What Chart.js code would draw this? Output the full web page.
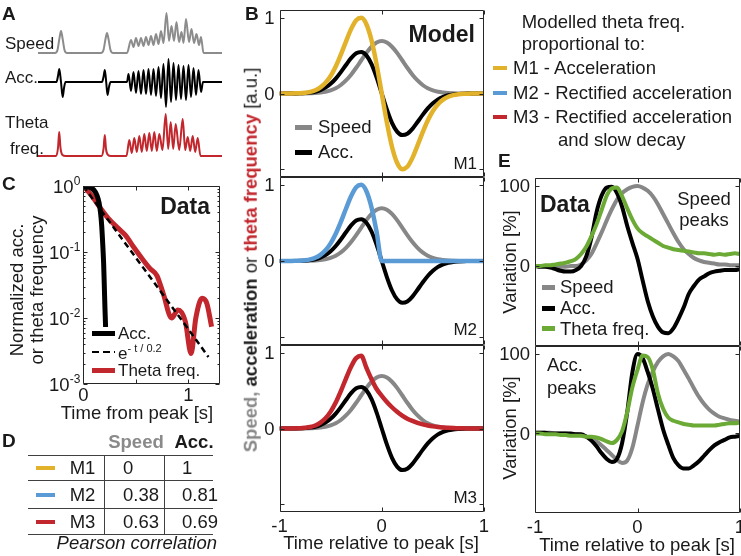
<!DOCTYPE html>
<html>
<head>
<meta charset="utf-8">
<script src="https://cdn.jsdelivr.net/npm/chart.js@4"></script>
<style>
  body { margin: 0; background: #fff; }
  #fig { position: relative; width: 741px; height: 556px; overflow: hidden;
         font-family: "Liberation Sans", Arial, sans-serif; color: #1a1a1a; }
  #fig canvas { position: absolute; left: 0; top: 0; }
  .t { position: absolute; white-space: nowrap; font-size: 18.5px; line-height: 1; }
  .t sup { font-size: 11px; vertical-align: 7px; }
  .seg { position: absolute; }
</style>
</head>
<body>
<div id="fig"></div>
<script>
// ---- A: example traces (time in s, a.u.)
const aSpeedT = [0, 1.7, 1.95, 2.15, 2.3, 2.45, 2.65, 2.9, 6.3, 6.55, 6.75, 6.9, 7.05, 7.25, 7.5, 8.9, 9.3, 9.55, 9.8, 10.05, 10.3, 10.55, 10.8, 11.05, 11.3, 11.55, 11.8, 12.05, 12.3, 12.55, 12.85, 13.1, 13.35, 13.6, 13.85, 14.1, 14.35, 14.55, 14.8, 15.1, 15.35, 15.6, 15.85, 16.1, 16.3, 16.55, 18.4];
const aSpeed  = [0, 0, 3, 15, 22, 15, 3, 0, 0, 3, 14, 20, 14, 3, 0, 0, 13, 6, 15, 7, 15, 7, 16, 8, 17, 8, 19, 9, 22, 10, 40, 12, 27, 12, 31, 11, 21, 10, 34, 11, 24, 10, 19, 8, 16, 0, 0];
const aAccT = [0, 1.85, 2.0, 2.13, 2.3, 2.47, 2.6, 2.75, 6.4, 6.55, 6.68, 6.82, 6.95, 7.1, 7.25, 8.9, 9.05, 9.3, 9.55, 9.8, 10.05, 10.3, 10.55, 10.8, 11.05, 11.3, 11.55, 11.8, 12.05, 12.3, 12.55, 12.8, 13.05, 13.3, 13.55, 13.8, 14.05, 14.3, 14.55, 14.8, 15.05, 15.3, 15.55, 15.8, 16.05, 16.3, 16.5, 18.4];
const aAcc  = [0, 0, 6, 13, 0, -15, -6, 0, 0, 5, 12, 0, -13, -5, 0, 0, 8, -9, 10, -11, 11, -12, 12, -12, 13, -13, 13, -14, 15, -16, 18, -25, 23, -20, 19, -18, 17, -17, 16, -18, 17, -15, 14, -13, 12, -10, 0, 0];
const aThetaT = [0, 1.8, 2.0, 2.12, 2.25, 2.45, 2.75, 6.35, 6.55, 6.68, 6.8, 7.0, 7.3, 8.85, 9.13, 9.38, 9.63, 9.88, 10.13, 10.38, 10.63, 10.88, 11.13, 11.38, 11.63, 11.88, 12.13, 12.45, 12.77, 13.02, 13.27, 13.52, 13.77, 14.12, 14.47, 14.72, 14.97, 15.22, 15.47, 15.72, 15.97, 16.25, 18.4];
const aTheta  = [0, 0, 8, 24, 8, 1, 0, 0, 7, 21, 7, 1, 0, 0, 16, 3, 18, 4, 20, 4, 22, 5, 23, 5, 24, 5, 22, 6, 42, 7, 34, 7, 32, 6, 37, 6, 19, 5, 20, 4, 18, 0, 0];

// ---- B: model curves
const bTime = [-1, -0.95, -0.9, -0.85, -0.8, -0.75, -0.7, -0.65, -0.6, -0.55, -0.5, -0.45, -0.4, -0.35, -0.3, -0.25, -0.2, -0.15, -0.1, -0.05, 0, 0.05, 0.1, 0.15, 0.2, 0.25, 0.3, 0.35, 0.4, 0.45, 0.5, 0.55, 0.6, 0.65, 0.7, 0.75, 0.8, 0.85, 0.9, 0.95, 1];
const bSpeed = [0, 0, 0, 0, 0, 0.001, 0.003, 0.006, 0.012, 0.022, 0.041, 0.069, 0.112, 0.172, 0.248, 0.339, 0.438, 0.535, 0.616, 0.671, 0.69, 0.671, 0.616, 0.535, 0.438, 0.339, 0.248, 0.172, 0.112, 0.069, 0.041, 0.022, 0.012, 0.006, 0.003, 0.001, 0, 0, 0, 0, 0];
const bAcc = [0, 0, 0, 0.001, 0.002, 0.006, 0.012, 0.023, 0.044, 0.077, 0.127, 0.196, 0.282, 0.376, 0.466, 0.531, 0.548, 0.502, 0.386, 0.210, 0, -0.210, -0.386, -0.502, -0.548, -0.531, -0.466, -0.376, -0.282, -0.196, -0.127, -0.077, -0.044, -0.023, -0.012, -0.006, -0.002, -0.001, 0, 0, 0];
const bM1 = [0, 0, 0.001, 0.002, 0.004, 0.010, 0.021, 0.042, 0.080, 0.140, 0.231, 0.356, 0.512, 0.684, 0.848, 0.966, 0.997, 0.913, 0.701, 0.381, 0, -0.381, -0.701, -0.913, -0.997, -0.966, -0.848, -0.684, -0.512, -0.356, -0.231, -0.140, -0.080, -0.042, -0.021, -0.010, -0.004, -0.002, -0.001, 0, 0];
const bM2 = [0, 0, 0.001, 0.002, 0.004, 0.010, 0.021, 0.042, 0.080, 0.140, 0.231, 0.356, 0.512, 0.684, 0.848, 0.966, 0.997, 0.913, 0.701, 0.381, 0, 0, 0, 0, 0, 0, 0, 0, 0, 0, 0, 0, 0, 0, 0, 0, 0, 0, 0, 0, 0];
const bM3 = [0, 0, 0.001, 0.002, 0.004, 0.010, 0.020, 0.040, 0.077, 0.134, 0.222, 0.342, 0.492, 0.657, 0.814, 0.927, 0.957, 0.80, 0.65, 0.52, 0.43, 0.35, 0.28, 0.22, 0.17, 0.13, 0.10, 0.075, 0.055, 0.04, 0.028, 0.02, 0.014, 0.009, 0.006, 0.004, 0.002, 0.001, 0, 0, 0];
const bXTicks = [-1, 0, 1];
const bXTickLabels = ['-1', '0', '1'];
const bYTicks = [-1, 0, 1];
const bYLabelTicks = [0, 1];
const bYTickLabels = ['0', '1'];

// ---- C: decay after peak (log scale)
const cAccT = [0, 0.05, 0.1, 0.13, 0.15, 0.165, 0.175, 0.185, 0.193, 0.2, 0.206, 0.212];
const cAcc  = [1, 0.97, 0.87, 0.72, 0.56, 0.38, 0.25, 0.13, 0.07, 0.03, 0.014, 0.0073];
const cExpT = [0, 0.2, 0.4, 0.6, 0.8, 1.0, 1.19];
const cExp  = [1, 0.368, 0.135, 0.0498, 0.0183, 0.00674, 0.00257];
const cThetaT = [0, 0.08, 0.16, 0.24, 0.33, 0.4, 0.48, 0.56, 0.635, 0.7, 0.76, 0.84, 0.9, 0.97, 1.025, 1.07, 1.13, 1.175, 1.22];
const cTheta  = [1, 0.71, 0.47, 0.32, 0.23, 0.18, 0.118, 0.079, 0.056, 0.044, 0.0235, 0.0100, 0.0132, 0.0089, 0.0029, 0.0100, 0.0199, 0.0166, 0.0074];
const cXTicks = [0, 0.5, 1];
const cXLabelTicks = [0, 1];
const cXTickLabels = ['0', '1'];
const cYTicks = [0.001, 0.01, 0.1, 1];
const cYExponents = ['-3', '-2', '-1', '0'];

// ---- D: correlation table
const dModels = ['M1', 'M2', 'M3'];
const dCorrSpeed = [0, 0.38, 0.63];
const dCorrAcc = [1, 0.81, 0.69];

// ---- E: triggered averages (%)
const eTime = bTime;
const eSpeedTop = [0, 0, 0, -1, -1, -1, -1, 0, 0, 2, 7, 15, 28, 42, 57, 71, 83, 91, 96, 99, 100, 98, 94, 87, 77, 65, 53, 41, 30, 21, 15, 10, 7, 5, 4, 3, 2, 2, 1, 1, 1];
const eAccTop = [0, -1, -1, -2, -4, -6, -7, -7, -5, 0, 12, 35, 67, 88, 98, 99, 91, 74, 50, 29, 9, -18, -44, -63, -76, -83, -84, -78, -66, -52, -35, -25, -17, -13, -9, -7, -6, -5, -5, -5, -4];
const eThetaTop = [0, 0, 1, 1, 2, 3, 4, 6, 9, 15, 24, 37, 52, 70, 88, 97, 98, 87, 72, 58, 47, 41, 37, 33, 29, 25, 23, 21, 20, 19, 18, 17, 16, 16, 15, 14, 15, 14, 15, 16, 15];
const eSpeedBot = [1, 1, 1, 1, 0, 0, 0, -1, -1, -2, -4, -7, -10, -15, -21, -27, -33, -37, -34, -18, 10, 39, 62, 78, 90, 97, 100, 97, 91, 80, 69, 57, 46, 37, 30, 25, 21, 19, 17, 16, 15];
const eAccBot = [1, 1, 1, 0, 0, 0, 0, 0, -1, -1, -4, -9, -16, -25, -32, -36, -32, -12, 27, 77, 100, 95, 77, 56, 30, 5, -14, -31, -40, -44, -44, -40, -35, -28, -21, -15, -11, -8, -5, -4, -3];
const eThetaBot = [0, 0, -1, -1, -1, -2, -2, -3, -3, -3, -4, -4, -5, -7, -10, -12, -8, 3, 27, 58, 80, 98, 96, 80, 50, 31, 20, 16, 14, 12, 11, 10, 10, 10, 10, 10, 11, 12, 13, 13, 14];
const eYTicks = [0, 100];
const eYTickLabels = ['0', '100'];

const GRAY = '#878787', RED = '#c1272d', YEL = '#e3b22b', BLUE = '#5b9bd5', GREEN = '#6aaa35';
const W = 741, H = 556;
const fig = document.getElementById('fig');
const FONT = '"Liberation Sans", Arial, sans-serif';

// Frame, inward ticks and tick labels, placed through the chart's scales
function makeFrame(cfg) {
    return {
        id: 'frame',
        afterDatasetsDraw(chart) {
            const { ctx, chartArea: a } = chart;
            const xs = chart.scales.x, ys = chart.scales.y;
            const L = Math.round(a.left) + 0.5, R = Math.round(a.right) - 0.5;
            const T = Math.round(a.top) + 0.5, B = Math.round(a.bottom) - 0.5;
            ctx.save();
            ctx.strokeStyle = '#262626';
            ctx.lineWidth = 1;
            ctx.beginPath();
            ctx.rect(L, T, R - L, B - T);
            (cfg.xTicks || []).forEach(v => {
                const p = Math.round(xs.getPixelForValue(v)) + 0.5;
                ctx.moveTo(p, B); ctx.lineTo(p, B - 4);
                ctx.moveTo(p, T); ctx.lineTo(p, T + 4);
            });
            const yTick = (v, len) => {
                const p = Math.round(ys.getPixelForValue(v)) + 0.5;
                ctx.moveTo(L, p); ctx.lineTo(L + len, p);
                ctx.moveTo(R, p); ctx.lineTo(R - len, p);
            };
            (cfg.yTicks || []).forEach(v => yTick(v, 4));
            (cfg.yMinor || []).forEach(v => yTick(v, 2));
            ctx.stroke();

            ctx.fillStyle = '#1a1a1a';
            ctx.textBaseline = 'middle';
            ctx.font = '18.5px ' + FONT;
            if (cfg.xLabels) {
                ctx.textAlign = 'center';
                cfg.xLabels.forEach((v, i) => ctx.fillText(cfg.xText[i], xs.getPixelForValue(v), a.bottom + cfg.xGap));
            }
            if (cfg.yLabels) {
                ctx.textAlign = 'right';
                cfg.yLabels.forEach((v, i) => ctx.fillText(cfg.yText[i], a.left - 5, ys.getPixelForValue(v) + 1));
            }
            if (cfg.yExp) {
                ctx.textAlign = 'right';
                cfg.yExp.forEach((v, i) => {
                    const p = ys.getPixelForValue(v);
                    ctx.font = '12px ' + FONT;
                    const ew = ctx.measureText(cfg.yExpText[i]).width;
                    ctx.fillText(cfg.yExpText[i], a.left - 3, p - 4);
                    ctx.font = '18.5px ' + FONT;
                    ctx.fillText('10', a.left - 3 - ew, p + 2);
                });
            }
            ctx.restore();
        }
    };
}

const pts = (T, V) => T.map((t, i) => ({ x: t, y: V[i] }));
function line(T, V, color, width, extra) {
    return Object.assign({ data: pts(T, V), borderColor: color, borderWidth: width,
        pointRadius: 0, fill: false }, extra || {});
}

function plot(box, xr, yr, datasets, frame, log) {
    const c = document.createElement('canvas');
    c.width = W; c.height = H;
    fig.appendChild(c);
    return new Chart(c, {
        type: 'line',
        data: { datasets },
        options: {
            responsive: false, animation: false, events: [],
            layout: { padding: { left: box[0], top: box[1], right: W - box[2], bottom: H - box[3] } },
            plugins: { legend: { display: false }, tooltip: { enabled: false } },
            scales: {
                x: { type: 'linear', display: false, min: xr[0], max: xr[1] },
                y: { type: log ? 'logarithmic' : 'linear', display: false, min: yr[0], max: yr[1] }
            },
            elements: { line: { cubicInterpolationMode: 'monotone', borderJoinStyle: 'round', borderCapStyle: 'butt' } }
        },
        plugins: frame ? [makeFrame(frame)] : []
    });
}

function txt(html, x, y, o = {}) {
    const d = document.createElement('div');
    d.className = 't';
    d.innerHTML = html;
    d.style.left = x + 'px';
    d.style.top = y + 'px';
    if (o.size) d.style.fontSize = o.size + 'px';
    if (o.bold) d.style.fontWeight = 'bold';
    if (o.italic) d.style.fontStyle = 'italic';
    if (o.color) d.style.color = o.color;
    const ax = o.align === 'right' ? '-100%' : o.align === 'center' || o.rot ? '-50%' : '0';
    d.style.transform = `translate(${ax}, -50%)` + (o.rot ? ' rotate(-90deg)' : '');
    fig.appendChild(d);
}

function seg(x1, x2, y, color, w, dashed) {
    const d = document.createElement('div');
    d.className = 'seg';
    d.style.left = x1 + 'px';
    d.style.top = (y - w / 2) + 'px';
    d.style.width = (x2 - x1) + 'px';
    d.style.height = w + 'px';
    d.style.background = dashed
        ? `repeating-linear-gradient(90deg, ${color} 0 7px, transparent 7px 11px)` : color;
    fig.appendChild(d);
}
function vseg(x, y1, y2, color) {
    const d = document.createElement('div');
    d.className = 'seg';
    d.style.left = (x - 0.5) + 'px';
    d.style.top = y1 + 'px';
    d.style.width = '1px';
    d.style.height = (y2 - y1) + 'px';
    d.style.background = color;
    fig.appendChild(d);
}

// ---- Panel A
const aX = [0, 18.4];
plot([38, 8, 222, 56], aX, [-3, 45], [line(aSpeedT, aSpeed, '#8c8c8c', 2, { clip: false })]);
plot([38, 54, 222, 110], aX, [-28, 28], [line(aAccT, aAcc, '#000', 2, { clip: false })]);
plot([38, 111, 222, 159], aX, [-3, 45], [line(aThetaT, aTheta, RED, 2, { clip: false })]);
txt('A', 2, 13, { bold: true, size: 19 });
txt('Speed', 5, 43, { size: 17 });
txt('Acc.', 5, 77, { size: 17 });
txt('Theta', 5, 122, { size: 17 });
txt('freq.', 10, 148, { size: 17 });

// ---- Panel B
const bFrame = { xTicks: bXTicks, yTicks: bYTicks, yLabels: bYLabelTicks, yText: bYTickLabels };
const bRange = [-1.1, 1.1];
const bCommon = [line(bTime, bAcc, '#000', 4), line(bTime, bSpeed, GRAY, 4)];
plot([279.5, 10, 484, 177], [-1, 1], bRange, [line(bTime, bM1, YEL, 4.5), ...bCommon], bFrame);
plot([279.5, 177, 484, 345], [-1, 1], bRange, [line(bTime, bM2, BLUE, 4.5), ...bCommon], bFrame);
plot([279.5, 345, 484, 512], [-1, 1], bRange, [line(bTime, bM3, RED, 4.5), ...bCommon],
    Object.assign({ xLabels: bXTicks, xText: bXTickLabels, xGap: 15 }, bFrame));
txt('B', 245, 13, { bold: true, size: 19 });
txt('Model', 475, 34, { bold: true, size: 23, align: 'right' });
txt('M1', 477, 162.5, { size: 17, align: 'right' });
txt('M2', 477, 328.5, { size: 17, align: 'right' });
txt('M3', 477, 496.5, { size: 17, align: 'right' });
seg(295, 312, 127, GRAY, 5); txt('Speed', 318, 127);
seg(295, 312, 152, '#000', 5); txt('Acc.', 318, 152);
txt(`<b style="color:${GRAY}">Speed,</b> <b>acceleration</b> or <b style="color:${RED}">theta frequency</b> [a.u.]`, 251, 260, { rot: true });
txt('Time relative to peak [s]', 381, 543, { align: 'center' });

// ---- Panel C
const cMinor = [];
[0.001, 0.01, 0.1].forEach(d => { for (let m = 2; m < 10; m++) cMinor.push(m * d); });
plot([83.3, 186, 220, 384], [0, 1.3], [0.001, 1], [
    line(cExpT, cExp, '#000', 2.5, { borderDash: [6, 4] }),
    line(cAccT, cAcc, '#000', 5),
    line(cThetaT, cTheta, RED, 5)
], { xTicks: cXTicks, yTicks: cYTicks, yMinor: cMinor, xLabels: cXLabelTicks, xText: cXTickLabels, xGap: 12,
     yExp: cYTicks, yExpText: cYExponents }, true);
txt('C', 2, 183, { bold: true, size: 19 });
txt('Data', 210, 206, { bold: true, size: 23, align: 'right' });
seg(92, 115, 333, '#000', 5); txt('Acc.', 118, 333, { size: 17 });
seg(92, 115, 352, '#000', 2.5, true); txt('e<sup>- t / 0.2</sup>', 118, 352, { size: 17 });
seg(92, 115, 370, RED, 5); txt('Theta freq.', 118, 370, { size: 17 });
txt('Normalized acc.', 17, 290, { rot: true });
txt('or theta frequency', 37, 290, { rot: true });
txt('Time from peak [s]', 137, 413, { align: 'center' });

// ---- Panel D
txt('D', 2, 440, { bold: true, size: 19 });
txt('Speed', 136, 441.5, { bold: true, color: '#8a8a8a', align: 'center' });
txt('Acc.', 194, 441.5, { bold: true, align: 'center' });
[455, 480, 508, 534].forEach(y => seg(28, 213, y, '#404040', 1));
vseg(104, 455, 534, '#404040');
vseg(164, 455, 534, '#404040');
const dRowY = [468.3, 495, 521.7];
const dColors = [YEL, BLUE, RED];
dModels.forEach((m, i) => {
    seg(36, 55, dRowY[i], dColors[i], 4);
    txt(m, 82.5, dRowY[i], { align: 'center' });
    txt(String(dCorrSpeed[i]), 123, dRowY[i]);
    txt(String(dCorrAcc[i]), 182, dRowY[i]);
});
txt('Pearson correlation', 217, 543, { italic: true, align: 'right' });

// ---- Model legend (top right)
txt('Modelled theta freq.', 521.7, 22);
txt('proportional to:', 521.7, 44);
seg(493, 507, 68, YEL, 4); txt('M1 - Acceleration', 513, 68);
seg(493, 507, 92.7, BLUE, 4); txt('M2 - Rectified acceleration', 513, 92.7);
seg(493, 507, 116.7, RED, 4); txt('M3 - Rectified acceleration', 513, 116.7);
txt('and slow decay', 558, 140);

// ---- Panel E
const eFrame = { xTicks: bXTicks, yTicks: eYTicks, yLabels: eYTicks, yText: eYTickLabels };
plot([535, 178, 740, 346], [-1, 1], [-100, 110], [
    line(eTime, eThetaTop, GREEN, 4), line(eTime, eAccTop, '#000', 4), line(eTime, eSpeedTop, GRAY, 4)
], eFrame);
plot([535, 346, 740, 513], [-1, 1], [-100, 110], [
    line(eTime, eThetaBot, GREEN, 4), line(eTime, eAccBot, '#000', 4), line(eTime, eSpeedBot, GRAY, 4)
], Object.assign({ xLabels: bXTicks, xText: bXTickLabels, xGap: 15 }, eFrame));
txt('E', 498, 160, { bold: true, size: 19 });
txt('Data', 540, 204, { bold: true, size: 23 });
txt('Speed', 704, 198.5, { align: 'center' });
txt('peaks', 704, 220, { align: 'center' });
seg(542, 555, 287, GRAY, 5); txt('Speed', 560, 287);
seg(542, 555, 308, '#000', 5); txt('Acc.', 560, 308);
seg(542, 555, 328.5, GREEN, 5); txt('Theta freq.', 560, 328.5);
txt('Acc.', 547, 365);
txt('peaks', 547, 387.5);
txt('Variation [%]', 509.5, 262, { rot: true });
txt('Variation [%]', 509.5, 428, { rot: true });
txt('Time relative to peak [s]', 637, 545, { align: 'center' });
</script>
</body>
</html>
